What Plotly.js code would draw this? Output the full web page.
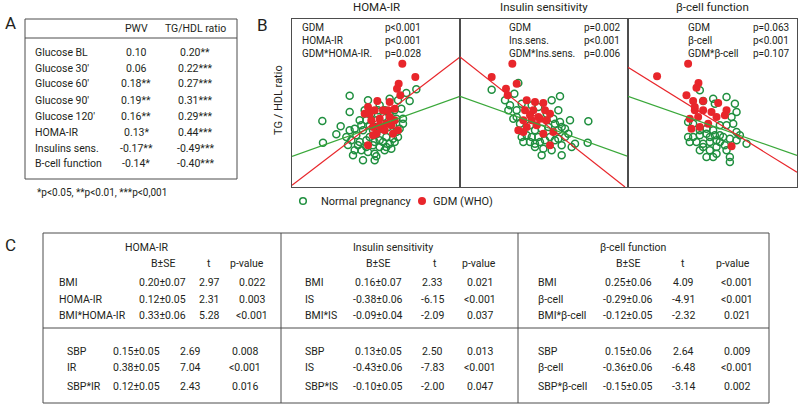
<!DOCTYPE html>
<html>
<head>
<meta charset="utf-8">
<script src="https://cdn.plot.ly/plotly-3.0.1.min.js"></script>
<style>
  html, body { margin: 0; padding: 0; background: #fff; }
  #chart { width: 799px; height: 406px; }
</style>
</head>
<body>
<div id="chart"></div>
<script>
// ---- panel A: correlation table ----
const rowLabelsA = ['Glucose BL', "Glucose 30'", "Glucose 60'", "Glucose 90'", "Glucose 120'", 'HOMA-IR', 'Insulins sens.', 'B-cell function'];
const pwvValues = ['0.10', '0.06', '0.18**', '0.19**', '0.16**', '0.13*', '-0.17**', '-0.14*'];
const tgHdlValues = ['0.20**', '0.22***', '0.27***', '0.31***', '0.29***', '0.44***', '-0.49***', '-0.40***'];
const footnoteA = '*p<0.05, **p<0.01, ***p<0,001';

// ---- panel B: scatter clouds (standardised units, 0..50) ----
const panelTitles = ['HOMA-IR', 'Insulin sensitivity', 'β-cell function'];
const statLabels = [
    ['GDM', 'HOMA-IR', 'GDM*HOMA-IR.'],
    ['GDM', 'Ins.sens.', 'GDM*Ins.sens.'],
    ['GDM', 'β-cell', 'GDM*β-cell']
];
const statPvals = [
    ['p<0.001', 'p<0.001', 'p=0.028'],
    ['p=0.002', 'p<0.001', 'p=0.006'],
    ['p=0.063', 'p<0.001', 'p=0.107']
];
const legendNames = ['Normal pregnancy', 'GDM (WHO)'];

const normX1 = [9.1, 17.3, 17.3, 14.6, 9.3, 13.3, 22.8, 34.3, 37.3, 35.3, 16.8, 18.3, 21.3, 25.3, 24.8, 27.8, 30.8, 33.3, 32.8, 31.8, 29.3, 26.3, 20.3, 18.8, 17.8, 20.3, 22.3, 24.3, 26.3, 28.3, 29.3, 31.3, 33.3, 19.3, 21.3, 23.3, 25.3, 27.3, 29.3, 30.8, 23.3, 25.3, 26.8, 28.8, 30.3, 22.3, 24.3, 26.3, 28.3, 20.8, 22.8, 19.8, 27.8, 31.3, 32.3, 21.8, 23.8, 25.8, 17.3, 16.3, 18.8, 24.8, 29.8, 31.8, 20.8, 22.3, 24.8, 27.3, 30.3];
const normY1 = [19.8, 27.4, 22.5, 18.2, 13.3, 15.8, 26.0, 28.2, 29.3, 25.8, 12.6, 9.5, 8.0, 9.2, 10.0, 11.0, 13.5, 20.5, 23.5, 26.0, 26.5, 24.5, 20.0, 17.5, 14.0, 13.5, 12.0, 12.5, 14.0, 15.0, 13.0, 16.5, 19.0, 15.5, 17.0, 18.5, 20.0, 21.0, 22.0, 23.0, 15.0, 16.0, 17.5, 18.0, 18.5, 14.0, 17.0, 12.0, 12.0, 11.0, 10.5, 12.5, 23.0, 20.5, 17.5, 23.0, 22.0, 23.0, 17.0, 15.0, 11.0, 8.0, 11.5, 15.0, 18.5, 20.0, 13.5, 13.5, 14.5];
const gdmX1 = [33.1, 37.0, 32.0, 31.5, 32.5, 22.8, 25.6, 29.3, 30.8, 21.8, 23.8, 26.3, 29.3, 30.8, 24.3, 26.8, 28.3, 25.3, 24.3, 30.3, 31.8, 22.8, 27.8, 23.3, 27.3, 29.8, 24.8, 26.3, 28.8];
const gdmY1 = [37.0, 33.0, 31.0, 29.5, 27.5, 24.0, 25.8, 25.5, 23.5, 22.0, 20.0, 20.5, 21.0, 20.0, 18.0, 17.5, 19.0, 16.0, 15.5, 16.0, 17.0, 12.5, 17.0, 22.0, 23.0, 18.5, 23.0, 18.5, 23.0];

const normX2 = [9.5, 17.5, 16.3, 13.5, 15.0, 14.5, 17.0, 27.5, 30.0, 33.0, 38.5, 38.3, 34.5, 31.5, 30.5, 28.5, 17.0, 18.0, 16.0, 21.5, 23.5, 25.5, 28.5, 30.5, 22.5, 24.5, 27.5, 30.5, 22.5, 20.0, 18.5, 21.0, 26.5, 29.5, 31.5, 32.5, 24.5, 22.5, 21.0, 28.0, 26.0, 23.5, 18.5, 21.5, 29.5, 25.0, 29.5, 33.5, 19.0, 24.0, 27.0, 30.0];
const normY2 = [29.2, 31.2, 28.0, 26.0, 24.5, 23.0, 23.0, 26.0, 27.2, 20.0, 19.7, 13.3, 13.0, 15.0, 18.0, 19.0, 21.0, 19.0, 20.5, 15.0, 15.0, 14.0, 14.0, 12.5, 12.0, 9.5, 11.0, 9.5, 13.0, 15.5, 15.0, 13.5, 18.0, 17.0, 17.5, 16.0, 17.5, 17.0, 18.5, 20.5, 22.0, 24.0, 25.0, 24.5, 23.0, 11.5, 14.5, 12.0, 13.5, 13.5, 15.0, 19.5];
const gdmX2 = [15.7, 9.5, 17.0, 13.8, 14.3, 20.0, 22.5, 25.0, 19.5, 22.0, 25.5, 27.0, 19.0, 21.5, 24.0, 26.0, 20.0, 23.0, 17.5, 19.0, 25.0, 28.0, 27.0, 23.5, 21.0];
const gdmY2 = [37.0, 33.0, 31.0, 29.5, 27.5, 26.0, 25.5, 25.2, 23.0, 23.0, 23.0, 22.0, 20.0, 20.0, 20.5, 20.0, 18.0, 18.5, 17.0, 16.5, 16.0, 16.5, 12.5, 21.0, 21.5];

const normX3 = [21.5, 22.5, 25.5, 26.0, 29.5, 32.0, 32.5, 31.0, 29.5, 31.5, 27.5, 25.5, 23.5, 21.5, 19.5, 18.5, 20.5, 22.5, 24.5, 26.5, 28.5, 30.5, 32.5, 33.5, 35.5, 22.5, 24.5, 26.5, 29.0, 23.5, 30.5, 30.5, 26.5, 27.5, 18.0, 19.5, 21.5, 24.5, 27.5, 21.5, 25.5, 32.5, 23.5, 26.0, 29.5, 18.0];
const normY3 = [29.0, 25.8, 26.5, 25.0, 27.0, 25.0, 22.5, 21.0, 18.5, 19.0, 18.5, 17.0, 16.0, 15.5, 15.0, 13.5, 13.5, 13.0, 13.5, 14.0, 15.0, 14.5, 14.0, 15.5, 13.0, 12.0, 11.0, 12.0, 12.5, 9.0, 9.0, 7.5, 10.0, 15.5, 19.5, 19.0, 17.0, 15.0, 13.5, 11.0, 9.0, 16.5, 17.5, 15.5, 11.0, 15.0];
const gdmX3 = [18.0, 8.7, 21.1, 20.5, 17.5, 19.5, 22.5, 27.0, 20.0, 22.5, 25.0, 29.5, 18.5, 21.0, 26.5, 19.0, 21.5, 24.0, 31.0, 20.0, 29.0];
const gdmY3 = [37.0, 33.2, 31.2, 29.8, 27.5, 25.8, 25.8, 25.2, 23.0, 23.0, 22.5, 23.0, 20.5, 21.0, 21.0, 17.5, 18.0, 19.0, 12.2, 24.0, 21.5];

// fitted regression lines (end points at panel edges)
const fitNormX = [[0, 50.4], [0, 50.4], [0, 50.6]];
const fitNormY = [[9.2, 27.2], [27.2, 9.2], [27.2, 9.5]];
const fitGdmX = [[0, 50.4], [0, 49.5], [0, 50.6]];
const fitGdmY = [[0.5, 39.0], [39.0, 0], [35.9, 4.4]];

// ---- panel C: moderation tables ----
const sectionTitles = ['HOMA-IR', 'Insulin sensitivity', 'β-cell function'];
const headerC = ['B±SE', 't', 'p-value'];
const bmiLabels = [['BMI', 'HOMA-IR', 'BMI*HOMA-IR'], ['BMI', 'IS', 'BMI*IS'], ['BMI', 'β-cell', 'BMI*β-cell']];
const bmiB = [['0.20±0.07', '0.12±0.05', '0.33±0.06'], ['0.16±0.07', '-0.38±0.06', '-0.09±0.04'], ['0.25±0.06', '-0.29±0.06', '-0.12±0.05']];
const bmiT = [['2.97', '2.31', '5.28'], ['2.33', '-6.15', '-2.09'], ['4.09', '-4.91', '-2.32']];
const bmiP = [['0.022', '0.003', '<0.001'], ['0.021', '<0.001', '0.037'], ['<0.001', '<0.001', '0.021']];
const sbpLabels = [['SBP', 'IR', 'SBP*IR'], ['SBP', 'IS', 'SBP*IS'], ['SBP', 'β-cell', 'SBP*β-cell']];
const sbpB = [['0.15±0.05', '0.38±0.05', '0.12±0.05'], ['0.13±0.05', '-0.43±0.06', '-0.10±0.05'], ['0.15±0.06', '-0.36±0.06', '-0.15±0.05']];
const sbpT = [['2.69', '7.04', '2.43'], ['2.50', '-7.83', '-2.00'], ['2.64', '-6.48', '-3.14']];
const sbpP = [['0.008', '<0.001', '0.016'], ['0.013', '<0.001', '0.047'], ['0.009', '<0.001', '0.002']];

const W = 799, H = 406;
const FONT = 'Roboto, Lato, sans-serif';
const TXT = '#231f20';
const GREEN = '#1f8f3f';
const GREEN_LINE = '#3aa83a';
const RED = '#e8262b';
const FRAME = '#4d4d4d';

const fx = p => p / W;
const fy = p => 1 - p / H;

const annotations = [];
const shapes = [];

function text(str, x, y, opts) {
    opts = opts || {};
    annotations.push({
        text: str, x: fx(x), y: fy(y), xref: 'paper', yref: 'paper',
        xanchor: opts.anchor || 'left', yanchor: opts.vanchor || 'middle', showarrow: false,
        align: 'left', borderpad: 0,
        font: { family: FONT, size: opts.size || 10.5, color: TXT }
    });
}

function line(x0, y0, x1, y1, w) {
    shapes.push({
        type: 'line', xref: 'paper', yref: 'paper',
        x0: fx(x0), y0: fy(y0), x1: fx(x1), y1: fy(y1),
        line: { color: FRAME, width: w || 1 }
    });
}

function rect(x0, y0, x1, y1) {
    shapes.push({
        type: 'rect', xref: 'paper', yref: 'paper',
        x0: fx(x0), y0: fy(y0), x1: fx(x1), y1: fy(y1),
        line: { color: FRAME, width: 1 }
    });
}

function dot(cx, cy, r, filled, color) {
    shapes.push({
        type: 'circle', xref: 'paper', yref: 'paper',
        x0: fx(cx - r), x1: fx(cx + r), y0: fy(cy + r), y1: fy(cy - r),
        fillcolor: filled ? color : 'rgba(0,0,0,0)',
        line: { color: color, width: filled ? 0 : 1.5 }
    });
}

// panel A
text('A', 4, 23, { size: 17 });
rect(25, 19, 237, 179);
line(25, 38, 237, 38);
text('PWV', 136, 29, { anchor: 'center' });
text('TG/HDL ratio', 195, 29, { anchor: 'center' });
rowLabelsA.forEach((lab, i) => {
    const y = 52 + i * 16;
    text(lab, 34, y);
    text(pwvValues[i], 136, y, { anchor: 'center' });
    text(tgHdlValues[i], 195, y, { anchor: 'center' });
});
text(footnoteA, 36, 192, { size: 10 });

// panel B text
text('B', 256, 25, { size: 17 });
const panelLeft = [292, 460, 628];
const panelRight = [460, 628, 797];
const statX = [[301, 384], [508, 583], [687, 752]];
panelTitles.forEach((t, i) => {
    text(t, (panelLeft[i] + panelRight[i]) / 2, 7, { anchor: 'center', size: 11.5 });
    // three stacked lines per column, one annotation each column
    text(statLabels[i].join('<br>'), statX[i][0], 21, { size: 10, vanchor: 'top' });
    text(statPvals[i].join('<br>'), statX[i][1], 21, { size: 10, vanchor: 'top' });
});
annotations.push({
    text: 'TG / HDL ratio', x: fx(278), y: fy(100), xref: 'paper', yref: 'paper',
    textangle: -90, showarrow: false, xanchor: 'center', yanchor: 'middle',
    font: { family: FONT, size: 11, color: TXT }
});

// legend drawn by hand to keep the tight spacing of the original
dot(303, 201, 3.3, false, GREEN);
text(legendNames[0], 320, 201, { size: 11 });
dot(422, 201, 4, true, RED);
text(legendNames[1], 432, 201, { size: 11 });

// panel C
text('C', 4, 245, { size: 17 });
rect(43, 233, 769, 403);
line(43, 328, 769, 328);
line(281, 233, 281, 403);
line(518, 233, 518, 403);
const secTitleX = [147, 393, 633];
const headX = [[163, 209, 247], [378, 435, 479], [628, 683, 733]];
const upperCols = [[58, 162, 209, 252], [304, 378, 432, 480], [537, 628, 683, 737]];
const lowerCols = [[66, 136, 190, 245], [304, 378, 432, 480], [537, 628, 683, 737]];
const upperY = [282, 299, 315];
const lowerY = [351, 367, 386];
sectionTitles.forEach((t, s) => {
    text(t, secTitleX[s], 247, { anchor: 'center' });
    headerC.forEach((h, k) => text(h, headX[s][k], 263, { anchor: 'center' }));
    for (let r = 0; r < 3; r++) {
        const u = upperCols[s], l = lowerCols[s];
        text(bmiLabels[s][r], u[0], upperY[r]);
        text(bmiB[s][r], u[1], upperY[r], { anchor: 'center' });
        text(bmiT[s][r], u[2], upperY[r], { anchor: 'center' });
        text(bmiP[s][r], u[3], upperY[r], { anchor: 'center' });
        text(sbpLabels[s][r], l[0], lowerY[r]);
        text(sbpB[s][r], l[1], lowerY[r], { anchor: 'center' });
        text(sbpT[s][r], l[2], lowerY[r], { anchor: 'center' });
        text(sbpP[s][r], l[3], lowerY[r], { anchor: 'center' });
    }
});

// traces
const normX = [normX1, normX2, normX3], normY = [normY1, normY2, normY3];
const gdmX = [gdmX1, gdmX2, gdmX3], gdmY = [gdmY1, gdmY2, gdmY3];
const traces = [];
for (let i = 0; i < 3; i++) {
    const ax = i === 0 ? '' : String(i + 1);
    traces.push({
        x: normX[i], y: normY[i], xaxis: 'x' + ax, yaxis: 'y' + ax,
        type: 'scatter', mode: 'markers', name: legendNames[0], showlegend: false,
        marker: { symbol: 'circle-open', size: 7, color: GREEN, line: { width: 1.5, color: GREEN } }
    });
    traces.push({
        x: gdmX[i], y: gdmY[i], xaxis: 'x' + ax, yaxis: 'y' + ax,
        type: 'scatter', mode: 'markers', name: legendNames[1], showlegend: false,
        marker: { symbol: 'circle', size: 8, color: RED }
    });
    traces.push({
        x: fitNormX[i], y: fitNormY[i], xaxis: 'x' + ax, yaxis: 'y' + ax,
        type: 'scatter', mode: 'lines', showlegend: false, hoverinfo: 'skip',
        line: { color: GREEN_LINE, width: 1.2 }
    });
    traces.push({
        x: fitGdmX[i], y: fitGdmY[i], xaxis: 'x' + ax, yaxis: 'y' + ax,
        type: 'scatter', mode: 'lines', showlegend: false, hoverinfo: 'skip',
        line: { color: RED, width: 1.2 }
    });
}

function axis(dom, range) {
    return {
        domain: dom, range: range, showline: true, mirror: true, linecolor: FRAME, linewidth: 1,
        showgrid: false, zeroline: false, showticklabels: false, ticks: '', fixedrange: true
    };
}

const yDom = [fy(187), fy(19)];
const layout = {
    width: W, height: H,
    margin: { l: 0, r: 0, t: 0, b: 0 },
    paper_bgcolor: '#fff', plot_bgcolor: '#fff',
    font: { family: FONT, size: 11, color: TXT },
    xaxis: axis([fx(292), fx(460)], [0, 50.4]),
    yaxis: axis(yDom, [0, 50.4]),
    xaxis2: Object.assign(axis([fx(460), fx(628)], [0, 50.4]), { anchor: 'y2' }),
    yaxis2: Object.assign(axis(yDom, [0, 50.4]), { anchor: 'x2' }),
    xaxis3: Object.assign(axis([fx(628), fx(797)], [0, 50.6]), { anchor: 'y3' }),
    yaxis3: Object.assign(axis(yDom, [0, 50.4]), { anchor: 'x3' }),
    showlegend: false,
    annotations: annotations,
    shapes: shapes
};

Plotly.newPlot('chart', traces, layout, { staticPlot: true });
</script>
</body>
</html>
